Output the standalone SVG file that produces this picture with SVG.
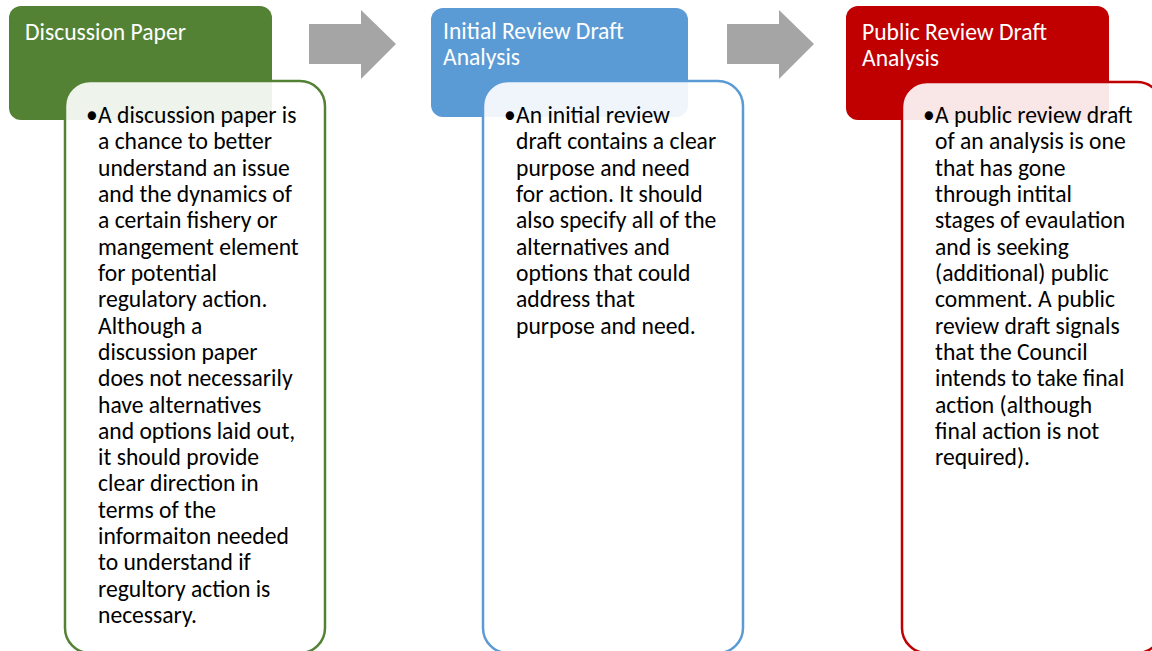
<svg xmlns="http://www.w3.org/2000/svg" width="1152" height="651" viewBox="0 0 1152 651">
<style>
  .hdr { fill: #fff; font-family: Carlito, "Liberation Sans", Arial, sans-serif; font-size: 23.6px; }
  .body { fill: #000; font-family: Carlito, "Liberation Sans", Arial, sans-serif; font-size: 23.6px; }
  .box { fill: #fff; fill-opacity: 0.9; stroke-width: 2.5; }
  .arrow { fill: #A5A5A5; }
</style>
<rect width="1152" height="651" fill="#fff"/>
<g id="connectors">
  <polygon class="arrow" points="309,24 361,24 361,10 396,44 361,79 361,64 309,64"/>
  <polygon class="arrow" points="727,24 779,24 779,10 814,44 779,79 779,64 727,64"/>
</g>
<g id="node-discussion">
  <rect x="9" y="6" width="263" height="114" rx="12" fill="#548235"/>
  <text class="hdr" x="25" y="40">Discussion Paper</text>
  <rect class="box" x="65" y="81" width="260" height="572" rx="25" stroke="#548235"/>
  <text class="body" x="86" y="123">•</text>
  <text class="body" y="123">
    <tspan x="98">A discussion paper is</tspan>
    <tspan x="98" dy="26.32">a chance to better</tspan>
    <tspan x="98" dy="26.32">understand an issue</tspan>
    <tspan x="98" dy="26.32">and the dynamics of</tspan>
    <tspan x="98" dy="26.32">a certain fishery or</tspan>
    <tspan x="98" dy="26.32">mangement element</tspan>
    <tspan x="98" dy="26.32">for potential</tspan>
    <tspan x="98" dy="26.32">regulatory action.</tspan>
    <tspan x="98" dy="26.32">Although a</tspan>
    <tspan x="98" dy="26.32">discussion paper</tspan>
    <tspan x="98" dy="26.32">does not necessarily</tspan>
    <tspan x="98" dy="26.32">have alternatives</tspan>
    <tspan x="98" dy="26.32">and options laid out,</tspan>
    <tspan x="98" dy="26.32">it should provide</tspan>
    <tspan x="98" dy="26.32">clear direction in</tspan>
    <tspan x="98" dy="26.32">terms of the</tspan>
    <tspan x="98" dy="26.32">informaiton needed</tspan>
    <tspan x="98" dy="26.32">to understand if</tspan>
    <tspan x="98" dy="26.32">regultory action is</tspan>
    <tspan x="98" dy="26.32">necessary.</tspan>
  </text>
</g>
<g id="node-initial">
  <rect x="431" y="8" width="257" height="109" rx="12" fill="#5B9BD5"/>
  <text class="hdr" y="39"><tspan x="443">Initial Review Draft</tspan><tspan x="443" dy="26.32">Analysis</tspan></text>
  <rect class="box" x="483" y="81" width="260" height="572" rx="25" stroke="#5B9BD5"/>
  <text class="body" x="504" y="123">•</text>
  <text class="body" y="123">
    <tspan x="516">An initial review</tspan>
    <tspan x="516" dy="26.32">draft contains a clear</tspan>
    <tspan x="516" dy="26.32">purpose and need</tspan>
    <tspan x="516" dy="26.32">for action. It should</tspan>
    <tspan x="516" dy="26.32">also specify all of the</tspan>
    <tspan x="516" dy="26.32">alternatives and</tspan>
    <tspan x="516" dy="26.32">options that could</tspan>
    <tspan x="516" dy="26.32">address that</tspan>
    <tspan x="516" dy="26.32">purpose and need.</tspan>
  </text>
</g>
<g id="node-public">
  <rect x="846" y="6" width="263" height="114" rx="12" fill="#C00000"/>
  <text class="hdr" y="40"><tspan x="862">Public Review Draft</tspan><tspan x="862" dy="26.32">Analysis</tspan></text>
  <rect class="box" x="902" y="82" width="260" height="571" rx="25" stroke="#C00000"/>
  <text class="body" x="923" y="123">•</text>
  <text class="body" y="123">
    <tspan x="935">A public review draft</tspan>
    <tspan x="935" dy="26.32">of an analysis is one</tspan>
    <tspan x="935" dy="26.32">that has gone</tspan>
    <tspan x="935" dy="26.32">through intital</tspan>
    <tspan x="935" dy="26.32">stages of evaulation</tspan>
    <tspan x="935" dy="26.32">and is seeking</tspan>
    <tspan x="935" dy="26.32">(additional) public</tspan>
    <tspan x="935" dy="26.32">comment. A public</tspan>
    <tspan x="935" dy="26.32">review draft signals</tspan>
    <tspan x="935" dy="26.32">that the Council</tspan>
    <tspan x="935" dy="26.32">intends to take final</tspan>
    <tspan x="935" dy="26.32">action (although</tspan>
    <tspan x="935" dy="26.32">final action is not</tspan>
    <tspan x="935" dy="26.32">required).</tspan>
  </text>
</g>
</svg>
